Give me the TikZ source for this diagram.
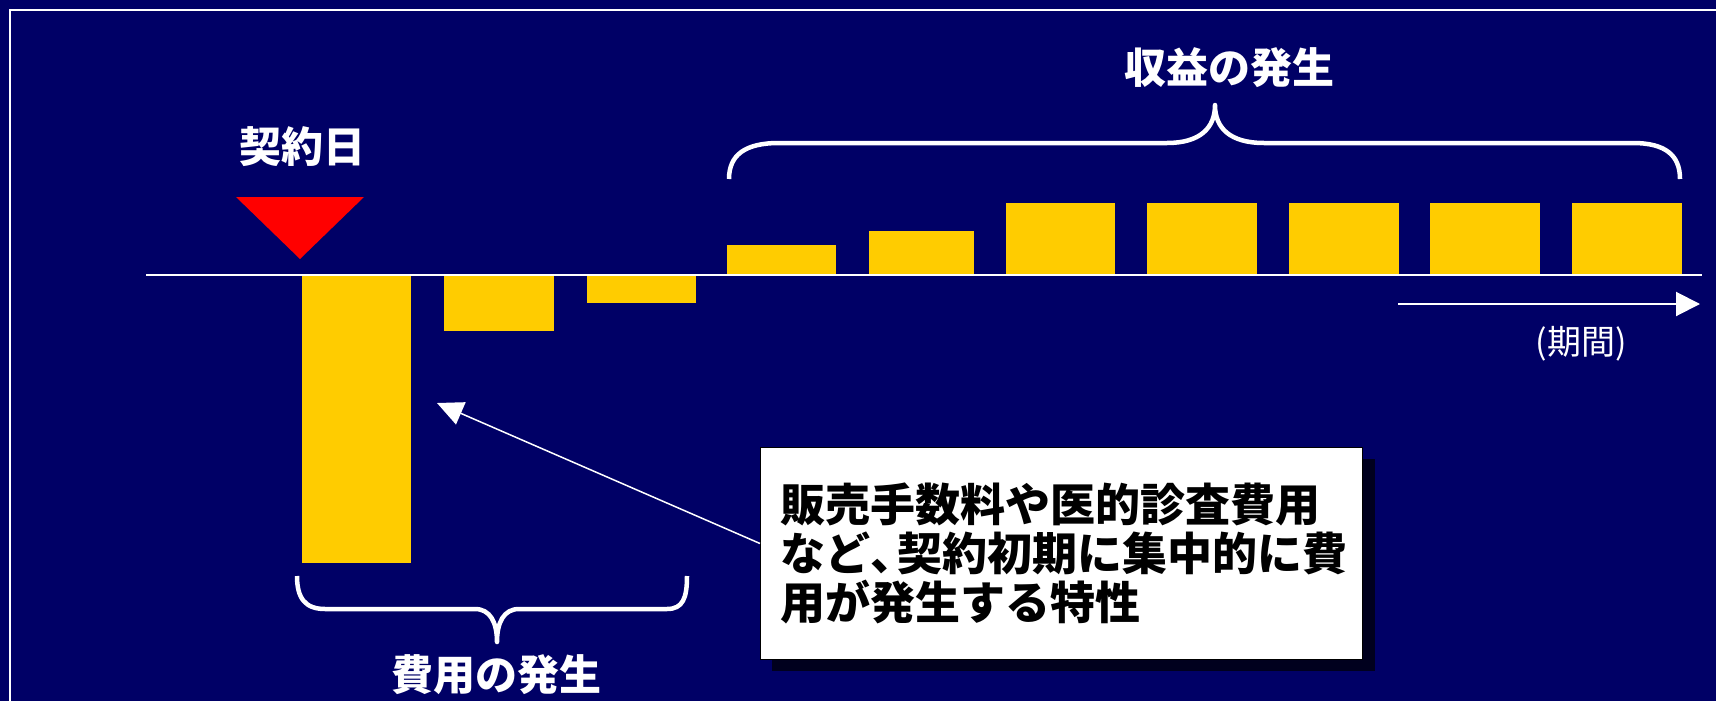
\documentclass[tikz,border=0pt]{standalone}
\usepackage{fontspec}
\newfontfamily\jp{Noto Sans CJK JP}
\usetikzlibrary{arrows.meta}
\definecolor{bg}{HTML}{000066}
\definecolor{baryel}{HTML}{FFCC00}
\definecolor{shadowc}{HTML}{00001E}
\begin{document}
\begin{tikzpicture}[x=1pt,y=-1pt,
  title/.style={text=white, font=\jp\bfseries\fontsize{42}{48}\selectfont, inner sep=0pt},
  bar/.style={fill=baryel},
  brace/.style={draw=white, line width=4.5pt, line join=round},
  callout/.style={draw=black, line width=1pt, fill=white, text=black,
    font=\jp\bfseries\fontsize{45}{49}\selectfont, align=left},
  wline/.style={draw=white, line width=2pt}]
\useasboundingbox (0,0) rectangle (1716,701);
\clip (0,0) rectangle (1716,701);
\fill[bg] (0,0) rectangle (1716,701);
\draw[white, line width=1.5pt] (10,10) rectangle (1740,740);

% bars
\fill[bar] (302,275) rectangle (411,563);
\fill[bar] (444,275) rectangle (554,331);
\fill[bar] (587,275) rectangle (696,303);
\fill[bar] (727,245) rectangle (836,275);
\fill[bar] (869,231) rectangle (974,275);
\fill[bar] (1006,203) rectangle (1115,275);
\fill[bar] (1147,203) rectangle (1257,275);
\fill[bar] (1289,203) rectangle (1399,275);
\fill[bar] (1430,203) rectangle (1540,275);
\fill[bar] (1572,203) rectangle (1682,275);

% axis
\coordinate (a0) at (146,275);
\coordinate (a1) at (1702,275);
\draw[wline] (a0) -- (a1);

% contract date marker
\fill[red] (236,197) -- (364,197) -- (300,259) -- cycle;
\node[title] (ky) at (302,147) {契約日};

% revenue brace
\draw[brace] (729,179) .. controls (729,155) and (745,143) .. (779,143) -- (1167,143)
  .. controls (1200,143) and (1215,128) .. (1215,105)
  .. controls (1215,128) and (1230,143) .. (1264,143) -- (1633,143)
  .. controls (1665,143) and (1680,155) .. (1680,179);
\node[title] (sh) at (1229,68) {収益の発生};

% cost brace
\draw[brace] (297,576) .. controls (297,598) and (305,609) .. (325,609) -- (475,609)
  .. controls (490,609) and (497,622) .. (497,642)
  .. controls (497,622) and (504,609) .. (519,609) -- (667,609)
  .. controls (683,609) and (687,598) .. (687,576);
\node[title] (hi) at (496,675) {費用の発生};

% period arrow
\coordinate (ps) at (1398,304);
\coordinate (pe) at (1700,304);
\draw[wline, -{Triangle[length=24pt,width=24pt]}] (ps) -- (pe);
\node[text=white, font=\jp\fontsize{34}{38}\selectfont, inner sep=0pt] (ki) at (1581,344) {(期間)};

% callout
\fill[shadowc] (772,459) rectangle (1375,671);
\node[callout, anchor=north west, minimum width=602pt, minimum height=212pt,
  text width=562pt, inner xsep=20pt, inner ysep=0pt] (box) at (760,447)
  {販売手数料や医的診査費用\\など\makebox[0.6em][l]{、}契約初期に集中的に費\\用が発生する特性};
\coordinate (tip) at (437,403);
\draw[draw=white, line width=1.5pt, -{Triangle[length=26pt,width=24pt]}] ([yshift=10pt]box.west) -- (tip);
\end{tikzpicture}
\end{document}
